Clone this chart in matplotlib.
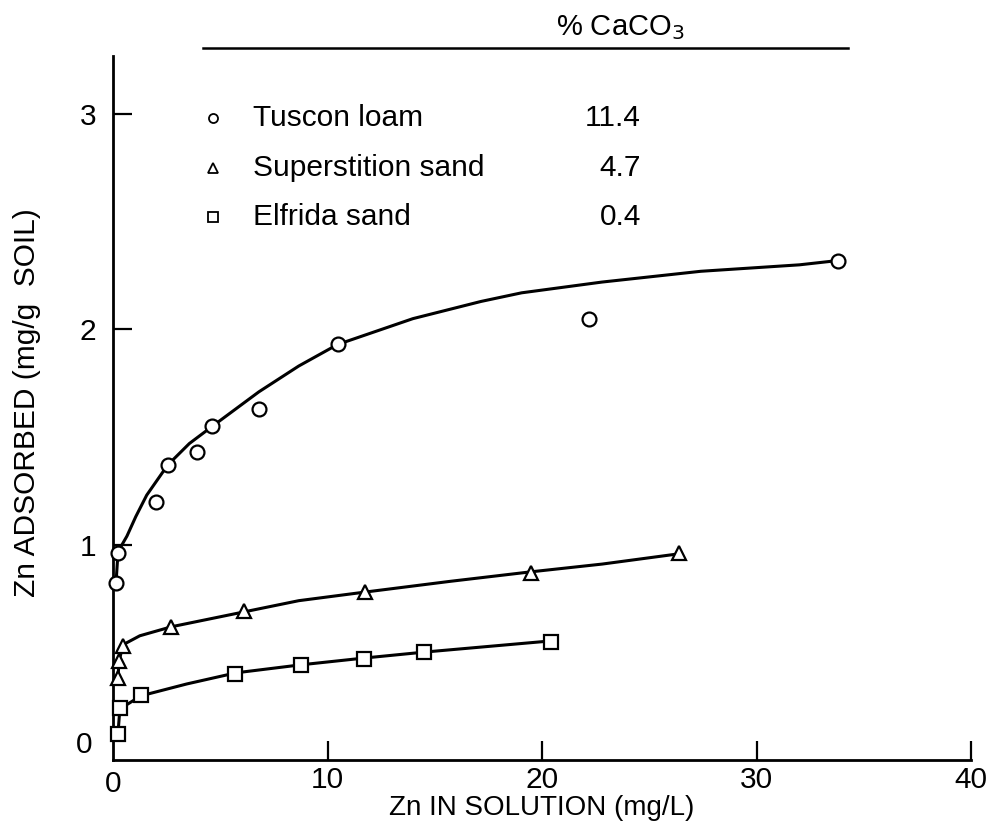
import numpy as np
import matplotlib
matplotlib.use("Agg")
import matplotlib.pyplot as plt

plt.rcParams['font.family'] = ['Liberation Sans', 'DejaVu Sans']

# measured points (Zn in solution mg/L, Zn adsorbed mg/g)
tuscon_x = [0.14, 0.23, 2.0, 2.55, 3.9, 4.6, 6.8, 10.5, 22.2, 33.8]
tuscon_y = [0.82, 0.96, 1.20, 1.37, 1.43, 1.55, 1.63, 1.93, 2.05, 2.32]

superst_x = [0.23, 0.28, 0.46, 2.7, 6.1, 11.75, 19.5, 26.4]
superst_y = [0.38, 0.46, 0.53, 0.62, 0.69, 0.78, 0.87, 0.96]

elfrida_x = [0.23, 0.32, 1.3, 5.7, 8.75, 11.7, 14.5, 20.4]
elfrida_y = [0.12, 0.24, 0.30, 0.40, 0.44, 0.47, 0.50, 0.55]

# hand drawn curves
tuscon_cx = [0.14, 0.23, 0.42, 0.65, 1.06, 1.57, 2.55, 3.56, 4.63, 6.8, 8.66,
             10.47, 13.98, 17.16, 19.05, 22.8, 27.4, 32.0, 33.8]
tuscon_cy = [0.82, 0.96, 1.00, 1.04, 1.13, 1.23, 1.37, 1.47, 1.55, 1.71, 1.83,
             1.93, 2.05, 2.13, 2.17, 2.22, 2.27, 2.30, 2.32]

superst_cx = [0.23, 0.28, 0.46, 1.25, 2.73, 6.11, 8.66, 11.75, 15.73, 19.48, 22.8, 26.4]
superst_cy = [0.38, 0.456, 0.535, 0.577, 0.619, 0.688, 0.74, 0.78, 0.83, 0.874, 0.91, 0.958]

elfrida_cx = [0.23, 0.32, 1.3, 3.43, 5.74, 8.75, 11.75, 14.6, 20.4]
elfrida_cy = [0.12, 0.237, 0.298, 0.353, 0.405, 0.442, 0.474, 0.502, 0.553]

soils = ["Tuscon loam", "Superstition sand", "Elfrida sand"]
caco3 = ["11.4", "4.7", "0.4"]
markers = ["o", "^", "s"]

fig = plt.figure(figsize=(9.91, 8.26), dpi=100)
ax = fig.add_axes([113 / 991, 66 / 826, 858 / 991, 704 / 826])

curves = [(tuscon_cx, tuscon_cy), (superst_cx, superst_cy), (elfrida_cx, elfrida_cy)]
points = [(tuscon_x, tuscon_y), (superst_x, superst_y), (elfrida_x, elfrida_y)]
for (cx, cy), (px, py), m in zip(curves, points, markers):
    ax.plot(cx, cy, color='black', lw=2.2, zorder=2, solid_capstyle='round')
    ax.plot(px, py, ls='none', marker=m, ms=10 if m == 'o' else 9.5,
            mfc='white', mec='black', mew=1.6, zorder=3, clip_on=False)

ax.set_xlim(0, 40)
ax.set_ylim(0, 3.27)
ax.spines['top'].set_visible(False)
ax.spines['right'].set_visible(False)
for s in ['left', 'bottom']:
    ax.spines[s].set_linewidth(2)

ax.set_xticks([10, 20, 30, 40])
ax.set_yticks([1, 2, 3])
ax.tick_params(direction='in', length=14, width=1.6, labelsize=21.5)
ax.tick_params(axis='x', pad=4)
ax.tick_params(axis='y', pad=12)
ax.text(0, -0.045, "0", ha='center', va='top', fontsize=21.5)
ax.text(-0.95, 0.07, "0", ha='right', va='center', fontsize=21.5)

ax.set_xlabel("Zn IN SOLUTION (mg/L)", fontsize=20, labelpad=1)
ax.set_ylabel("Zn ADSORBED (mg/g  SOIL)", fontsize=21.5)
ax.yaxis.set_label_coords(-0.084, 0.508)

# legend table in the upper part
fig.text(620 / 991, 1 - 28 / 826, "% CaCO$_3$", ha='center', va='center', fontsize=21)
fig.add_artist(plt.Line2D([203 / 991, 848 / 991], [1 - 48 / 826, 1 - 48 / 826],
                          color='black', lw=1.8))
rows_y = [118, 168, 217]
for name, val, m, ry in zip(soils, caco3, markers, rows_y):
    yy = 1 - ry / 826
    fig.add_artist(plt.Line2D([213 / 991], [yy], marker=m, ms=6.5, mfc='white',
                              mec='black', mew=1.3, ls='none'))
    fig.text(253 / 991, yy, name, ha='left', va='center', fontsize=21.5)
    fig.text(641 / 991, yy, val, ha='right', va='center', fontsize=21.5)

fig.savefig("out.png", dpi=100)
